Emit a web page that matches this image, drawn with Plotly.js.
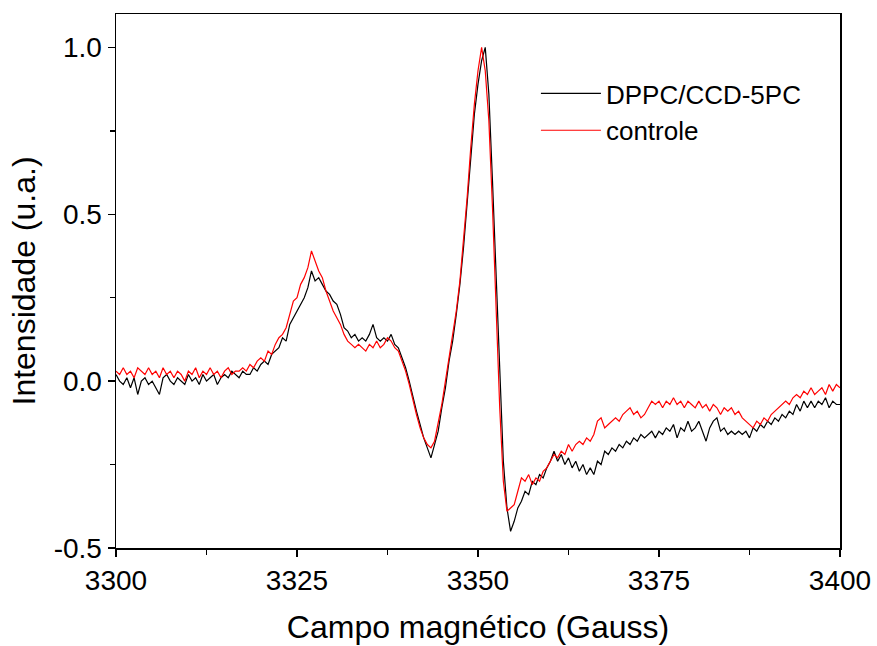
<!DOCTYPE html>
<html>
<head>
<meta charset="utf-8">
<script src="https://cdn.plot.ly/plotly-3.0.1.min.js"></script>
<style>html,body{margin:0;padding:0;background:#fff;}#chart{width:877px;height:646px;}</style>
</head>
<body>
<div id="chart"></div>
<script>
// Field sampling: start and step (Gauss)
const fieldStart = 3300;
const fieldStep = 0.5;

// DPPC/CCD-5PC (black)
const dppc = [
  0.02, 0.00, -0.01, 0.01, -0.02, 0.01, -0.04, 0.00, 0.01, -0.01,
  0.00, -0.02, -0.04, 0.01, 0.02, 0.00, -0.01, 0.01, 0.00, -0.01,
  0.02, 0.00, 0.01, -0.01, 0.02, 0.00, 0.01, 0.02, -0.01, 0.01,
  0.02, 0.01, 0.03, 0.02, 0.01, 0.03, 0.02, 0.02, 0.04, 0.03,
  0.05, 0.06, 0.05, 0.08, 0.09, 0.10, 0.13, 0.12, 0.17, 0.19,
  0.21, 0.23, 0.25, 0.28, 0.33, 0.30, 0.31, 0.29, 0.27, 0.26,
  0.24, 0.23, 0.20, 0.16, 0.15, 0.13, 0.14, 0.12, 0.13, 0.12,
  0.14, 0.17, 0.13, 0.12, 0.13, 0.12, 0.14, 0.11, 0.10, 0.07,
  0.04, 0.00, -0.05, -0.09, -0.13, -0.17, -0.20, -0.23, -0.19, -0.15,
  -0.08, -0.02, 0.06, 0.12, 0.20, 0.29, 0.40, 0.53, 0.67, 0.80,
  0.89, 0.96, 1.00, 0.86, 0.60, 0.30, 0.00, -0.24, -0.38, -0.45,
  -0.42, -0.38, -0.36, -0.33, -0.34, -0.30, -0.31, -0.28, -0.29, -0.26,
  -0.24, -0.21, -0.24, -0.22, -0.25, -0.23, -0.26, -0.24, -0.27, -0.25,
  -0.28, -0.26, -0.28, -0.24, -0.25, -0.21, -0.22, -0.20, -0.21, -0.19,
  -0.20, -0.18, -0.19, -0.17, -0.18, -0.16, -0.17, -0.16, -0.15, -0.17,
  -0.15, -0.16, -0.14, -0.15, -0.13, -0.17, -0.14, -0.15, -0.12, -0.15,
  -0.14, -0.12, -0.15, -0.18, -0.14, -0.12, -0.11, -0.15, -0.14, -0.16,
  -0.15, -0.16, -0.15, -0.16, -0.15, -0.17, -0.14, -0.15, -0.13, -0.14,
  -0.12, -0.13, -0.11, -0.12, -0.10, -0.11, -0.09, -0.10, -0.07, -0.09,
  -0.06, -0.08, -0.06, -0.08, -0.06, -0.07, -0.05, -0.08, -0.06, -0.07,
  -0.07
];

// controle (red)
const controle = [
  0.03, 0.02, 0.04, 0.02, 0.03, 0.01, 0.04, 0.03, 0.02, 0.04,
  0.02, 0.03, 0.01, 0.04, 0.02, 0.03, 0.01, 0.03, 0.02, 0.00,
  0.03, 0.02, 0.04, 0.01, 0.03, 0.02, 0.04, 0.02, 0.03, 0.01,
  0.03, 0.04, 0.02, 0.03, 0.03, 0.04, 0.03, 0.05, 0.04, 0.06,
  0.07, 0.06, 0.09, 0.08, 0.11, 0.13, 0.14, 0.16, 0.20, 0.24,
  0.25, 0.29, 0.31, 0.34, 0.39, 0.36, 0.33, 0.31, 0.27, 0.24,
  0.21, 0.19, 0.17, 0.14, 0.12, 0.11, 0.10, 0.11, 0.10, 0.09,
  0.11, 0.10, 0.12, 0.10, 0.11, 0.13, 0.12, 0.10, 0.09, 0.06,
  0.03, -0.01, -0.06, -0.10, -0.14, -0.17, -0.19, -0.20, -0.18, -0.13,
  -0.07, 0.00, 0.07, 0.13, 0.21, 0.30, 0.42, 0.55, 0.70, 0.83,
  0.93, 1.00, 0.93, 0.78, 0.52, 0.22, -0.08, -0.30, -0.39, -0.38,
  -0.37, -0.33, -0.29, -0.30, -0.28, -0.31, -0.29, -0.30, -0.27, -0.26,
  -0.24, -0.22, -0.23, -0.21, -0.22, -0.19, -0.21, -0.19, -0.18, -0.19,
  -0.17, -0.18, -0.16, -0.12, -0.11, -0.14, -0.13, -0.12, -0.11, -0.12,
  -0.10, -0.09, -0.08, -0.10, -0.09, -0.11, -0.10, -0.08, -0.06, -0.07,
  -0.06, -0.08, -0.06, -0.07, -0.05, -0.07, -0.06, -0.08, -0.06, -0.07,
  -0.08, -0.06, -0.08, -0.07, -0.09, -0.07, -0.08, -0.10, -0.08, -0.09,
  -0.08, -0.10, -0.09, -0.11, -0.12, -0.13, -0.14, -0.12, -0.13, -0.11,
  -0.12, -0.10, -0.09, -0.08, -0.07, -0.06, -0.07, -0.05, -0.04, -0.05,
  -0.03, -0.04, -0.02, -0.04, -0.03, -0.02, -0.04, -0.01, -0.03, -0.01,
  -0.02
];

const xTickVals = [3300, 3325, 3350, 3375, 3400];
const yTickVals = [-0.5, 0.0, 0.5, 1.0];
const yTickText = ['-0.5', '0.0', '0.5', '1.0'];

const field = dppc.map((_, i) => fieldStart + fieldStep * i);

const traces = [
  {x: field, y: dppc, type: 'scatter', mode: 'lines', name: 'DPPC/CCD-5PC',
   line: {color: '#000000', width: 1.2}},
  {x: field, y: controle, type: 'scatter', mode: 'lines', name: 'controle',
   line: {color: '#ff0000', width: 1.2}}
];

const font = 'Liberation Sans, Arial, sans-serif';
const layout = {
  width: 877, height: 646,
  margin: {l: 116, r: 37, t: 14, b: 98},
  paper_bgcolor: '#fff', plot_bgcolor: '#fff',
  font: {family: font, color: '#000'},
  showlegend: true,
  legend: {x: 0.58, y: 0.895, xanchor: 'left', yanchor: 'top',
           bgcolor: 'rgba(0,0,0,0)', font: {size: 26, family: font},
           tracegroupgap: 0, itemwidth: 60},
  xaxis: {
    range: [3300, 3400], tickvals: xTickVals, ticktext: xTickVals.map(String),
    showgrid: false, zeroline: false, showline: true, mirror: true,
    linecolor: '#000', linewidth: 1.5,
    ticks: 'outside', ticklen: 7, tickwidth: 1.5, tickcolor: '#000',
    minor: {dtick: 12.5, ticks: 'outside', ticklen: 5, tickwidth: 1.5, tickcolor: '#000', showgrid: false},
    tickfont: {size: 28, family: font},
    title: {text: 'Campo magnético (Gauss)', font: {size: 32, family: font}, standoff: 20}
  },
  yaxis: {
    range: [-0.5, 1.1], tickvals: yTickVals, ticktext: yTickText,
    showgrid: false, zeroline: false, showline: true, mirror: true,
    linecolor: '#000', linewidth: 1.5,
    ticks: 'outside', ticklen: 7, tickwidth: 1.5, tickcolor: '#000',
    minor: {dtick: 0.25, tick0: 0, ticks: 'outside', ticklen: 5, tickwidth: 1.5, tickcolor: '#000', showgrid: false},
    tickfont: {size: 28, family: font},
    title: {text: 'Intensidade (u.a.)', font: {size: 32, family: font}, standoff: 8}
  }
};

Plotly.newPlot('chart', traces, layout, {displayModeBar: false, staticPlot: true});
</script>
</body>
</html>
